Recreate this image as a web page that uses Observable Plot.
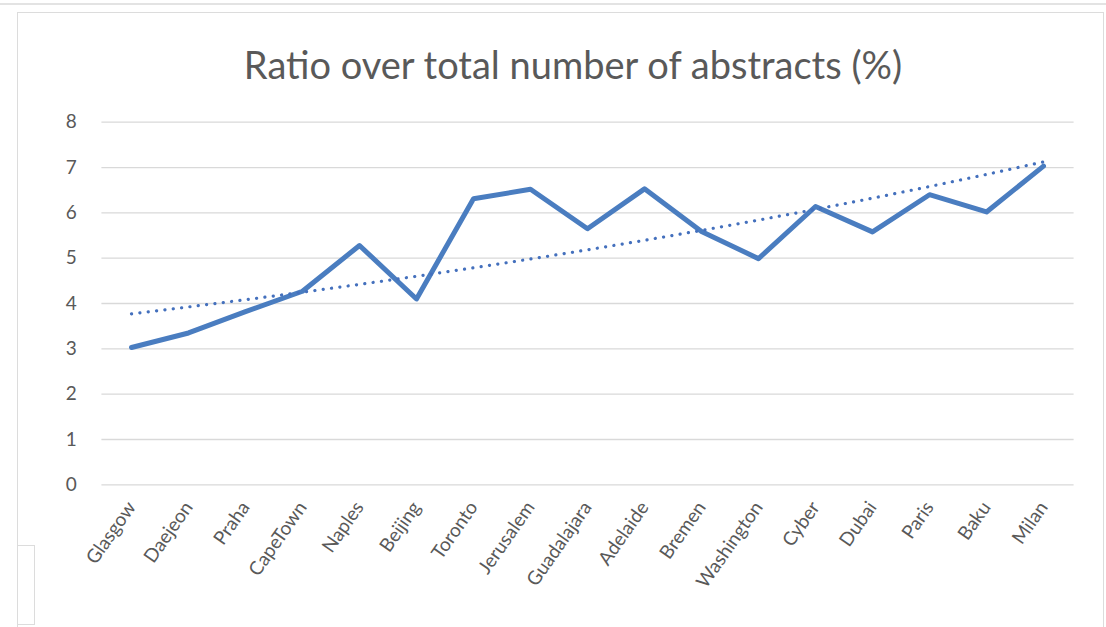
<!DOCTYPE html>
<html>
<head>
<meta charset="utf-8">
<script src="https://cdn.jsdelivr.net/npm/d3@7"></script>
<script src="https://cdn.jsdelivr.net/npm/@observablehq/plot@0.6"></script>
<style>
  html, body { margin: 0; padding: 0; background: #fff; }
  #wrap { position: relative; width: 1106px; height: 627px; overflow: hidden; background: #fff; font-family: Lato, "Noto Sans", sans-serif; }
  #topline { position: absolute; left: 0; top: 3px; width: 1106px; height: 0; border-top: 2px solid #e3e3e3; }
  #frame { position: absolute; left: 17px; top: 12px; width: 1087px; height: 640px; border: 1.5px solid #dcdcdc; box-sizing: border-box; }
  #corner { position: absolute; left: 17px; top: 545px; width: 18px; height: 80px; border: 1.5px solid #dcdcdc; box-sizing: border-box; }
  #title { position: absolute; left: 0; top: 0; width: 1106px; height: 100px; }
  #title div { position: absolute; left: 100px; width: 946px; top: 41px; text-align: center; font-size: 38px; line-height: 46px; color: #595959; }
  #chart { position: absolute; left: 0; top: 100px; }
</style>
</head>
<body>
<div id="wrap">
  <div id="topline"></div>
  <div id="frame"></div>
  <div id="corner"></div>
  <div id="title"><div>Ratio over total number of abstracts (%)</div></div>
  <div id="chart"></div>
</div>
<script>
const categories = ["Glasgow","Daejeon","Praha","CapeTown","Naples","Beijing","Toronto","Jerusalem","Guadalajara","Adelaide","Bremen","Washington","Cyber","Dubai","Paris","Baku","Milan"];
const ratios = [3.03, 3.35, 3.82, 4.27, 5.28, 4.10, 6.31, 6.52, 5.65, 6.53, 5.59, 4.99, 6.14, 5.58, 6.40, 6.02, 7.03];
const yTicks = [0, 1, 2, 3, 4, 5, 6, 7, 8];

const data = categories.map((c, i) => ({city: c, value: ratios[i]}));

// Exponential trendline (least squares on ln(y)), as a spreadsheet would compute it
const xs = ratios.map((_, i) => i + 1);
const ls = ratios.map(v => Math.log(v));
const mx = d3.mean(xs), ml = d3.mean(ls);
const b = d3.sum(xs.map((x, i) => (x - mx) * (ls[i] - ml))) / d3.sum(xs.map(x => (x - mx) ** 2));
const a = Math.exp(ml - b * mx);
const trend = categories.map((c, i) => ({city: c, value: a * Math.exp(b * (i + 1))}));

const chart = Plot.plot({
  width: 1106,
  height: 527,
  marginLeft: 101.4,
  marginRight: 32.4,
  marginTop: 21.7,
  marginBottom: 142.7,
  style: {fontFamily: 'Lato, "Noto Sans", sans-serif', fontSize: "18px", color: "#595959", background: "transparent", overflow: "visible"},
  x: {type: "point", domain: categories, padding: 0.5},
  y: {domain: [0, 8]},
  marks: [
    Plot.ruleY(yTicks, {stroke: "#d9d9d9", strokeWidth: 1.3}),
    Plot.axisY({ticks: yTicks, tickSize: 0, tickPadding: 25, fontSize: 19, label: null, fill: "#595959"}),
    Plot.axisX({tickSize: 0, tickRotate: -55, tickPadding: 19, fontSize: 19, label: null, fill: "#595959"}),
    Plot.line(data, {x: "city", y: "value", stroke: "#4a7dc0", strokeWidth: 5, strokeLinejoin: "round", strokeLinecap: "round"}),
    Plot.line(trend, {x: "city", y: "value", stroke: "#4470bd", strokeWidth: 3.2, strokeDasharray: "0.1,8.3", strokeLinecap: "round"})
  ]
});
document.getElementById("chart").appendChild(chart);
</script>
</body>
</html>
